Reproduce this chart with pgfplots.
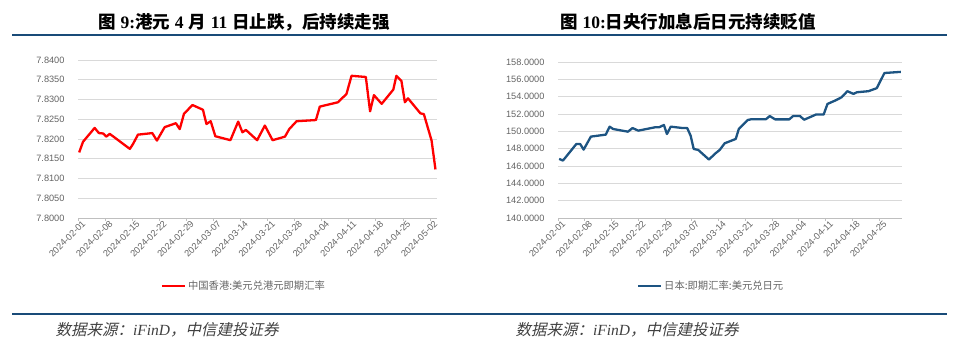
\documentclass[border=0pt]{standalone}
\usepackage{pgfplots}
\pgfplotsset{compat=1.18}
\usepackage{fontspec}
\setmainfont{Liberation Sans}
\newfontfamily\cjk{Noto Sans CJK SC}
\newfontfamily\cjki[FakeSlant=0.22]{Noto Sans CJK SC}
\newfontfamily\tnr{Liberation Serif}
\definecolor{hkred}{RGB}{255,0,0}
\definecolor{jpblue}{RGB}{29,84,130}
\definecolor{rulec}{RGB}{25,75,120}
\definecolor{gridc}{RGB}{217,217,217}
\definecolor{axc}{RGB}{191,191,191}
\definecolor{tickc}{RGB}{100,100,100}
\definecolor{srcc}{RGB}{64,64,64}
\pgfplotsset{
  common/.style={
    scale only axis,
    anchor=south west,
    xmin=0,
    axis x line*=bottom,
    axis y line*=left,
    y axis line style={draw=none},
    ytick style={draw=none},
    x axis line style={draw=axc, line width=0.8pt},
    xtick style={draw=axc, line width=0.8pt},
    tick align=outside,
    major tick length=3pt,
    ymajorgrids,
    grid style={draw=gridc, line width=0.8pt},
    tick label style={font=\fontsize{9.2}{11}\selectfont, text=tickc},
    yticklabel style={xshift=-7pt},
    xticklabel style={rotate=45, anchor=north east, inner sep=0.5pt, xshift=4pt, yshift=-1pt},
    /pgf/number format/assume math mode=true,
    yticklabel style={/pgf/number format/.cd, fixed, fixed zerofill, precision=4},
    legend style={draw=none, fill=none, font=\fontsize{10.3}{12}\selectfont\cjk, text=tickc, legend cell align=left, inner sep=0pt},
    legend image code/.code={\draw[#1] (0pt,0pt) -- (23pt,0pt);},
    clip=false,
  }
}
\begin{document}
\begin{tikzpicture}
\useasboundingbox (0,0) rectangle (960pt,345pt);
% titles
\node at (244pt,323pt) {\fontsize{17.5}{20}\selectfont\bfseries{\cjk 图} {\tnr 9:}{\cjk 港元} {\tnr 4} {\cjk 月} {\tnr 11} {\cjk 日止跌，后持续走强}};
\node at (688pt,323pt) {\fontsize{17.5}{20}\selectfont\bfseries{\cjk 图} {\tnr 10:}{\cjk 日央行加息后日元持续贬值}};
\draw[rulec, line width=1.6pt] (12pt,310pt) -- (947pt,310pt);
\draw[rulec, line width=1.6pt] (12pt,31pt) -- (947pt,31pt);
\node[anchor=west, text=srcc] at (52pt,15pt) {\fontsize{15.5}{18}\selectfont{\cjki 数据来源：}{\tnr\itshape iFinD}{\cjki ，中信建投证券}};
\node[anchor=west, text=srcc] at (512pt,15pt) {\fontsize{15.5}{18}\selectfont{\cjki 数据来源：}{\tnr\itshape iFinD}{\cjki ，中信建投证券}};

\begin{axis}[common,
  at={(78pt,127pt)}, width=359pt, height=158pt,
  xmax=92.8, ymin=7.80, ymax=7.84,
  ytick={7.800,7.805,7.810,7.815,7.820,7.825,7.830,7.835,7.840},
  xtick={0,7,14,21,28,35,42,49,56,63,70,77,84,91},
  xticklabels={2024-02-01,2024-02-08,2024-02-15,2024-02-22,2024-02-29,2024-03-07,2024-03-14,2024-03-21,2024-03-28,2024-04-04,2024-04-11,2024-04-18,2024-04-25,2024-05-02},
  legend style={at={(0.462,-0.43)}, anchor=center},
]
\addplot[hkred, line width=2.3pt, line join=round] coordinates {
(0.3,7.8166) (1.3,7.8193) (4.3,7.8228) (5.4,7.8215) (6.5,7.8214) (7.3,7.8206) (8.2,7.8213)
(13.4,7.8175) (14.2,7.8187) (15.5,7.8211) (19.2,7.8215) (20.4,7.8196) (22.4,7.8230)
(25.3,7.8240) (26.3,7.8225) (27.4,7.8264) (29.6,7.8286) (32.3,7.8274) (33.2,7.8238)
(34.3,7.8245) (35.5,7.8207) (39.4,7.8197) (41.4,7.8244) (42.5,7.8217) (43.4,7.8223)
(46.3,7.8197) (48.3,7.8234) (50.3,7.8197) (53.5,7.8206) (54.6,7.8225) (56.5,7.8245)
(61.5,7.8248) (62.5,7.8282) (67.2,7.8293) (69.4,7.8314) (70.7,7.8360) (74.4,7.8357)
(75.5,7.8270) (76.5,7.8311) (78.5,7.8289) (81.5,7.8325) (82.3,7.8360) (83.6,7.8347)
(84.5,7.8293) (85.3,7.8303) (88.5,7.8265) (89.4,7.8263) (91.4,7.8196) (92.4,7.8123)
};
\addlegendentry{中国香港:美元兑港元即期汇率}
\end{axis}

\begin{axis}[common,
  at={(558pt,127pt)}, width=344pt, height=156pt,
  xmax=90, ymin=140, ymax=158,
  ytick={140,142,144,146,148,150,152,154,156,158},
  xtick={0,7,14,21,28,35,42,49,56,63,70,77,84},
  xticklabels={2024-02-01,2024-02-08,2024-02-15,2024-02-22,2024-02-29,2024-03-07,2024-03-14,2024-03-21,2024-03-28,2024-04-04,2024-04-11,2024-04-18,2024-04-25},
  legend style={at={(0.445,-0.436)}, anchor=center},
]
\addplot[jpblue, line width=2.3pt, line join=round] coordinates {
(0.3,146.82) (1.3,146.63) (4.8,148.54) (5.8,148.54) (6.7,147.89) (8.6,149.39) (12.5,149.62)
(13.5,150.54) (14.4,150.27) (18.3,149.96) (19.5,150.38) (21.0,150.08) (25.3,150.46)
(26.4,150.46) (27.7,150.73) (28.5,149.69) (29.5,150.54) (32.6,150.38) (33.8,150.38)
(34.7,149.50) (35.5,147.97) (36.7,147.85) (39.5,146.74) (41.0,147.39) (42.3,147.85)
(43.6,148.62) (46.5,149.12) (47.3,150.27) (49.6,151.30) (50.6,151.40) (54.4,151.40)
(55.4,151.76) (56.8,151.38) (60.5,151.38) (61.5,151.76) (63.3,151.76) (64.4,151.34)
(67.5,151.94) (69.5,151.94) (70.5,153.16) (72.5,153.55) (74.2,153.93) (75.7,154.63)
(77.3,154.32) (78.2,154.51) (81.2,154.63) (83.4,154.98) (85.4,156.73) (89.7,156.86)
};
\addlegendentry{日本:即期汇率:美元兑日元}
\end{axis}
\end{tikzpicture}
\end{document}
